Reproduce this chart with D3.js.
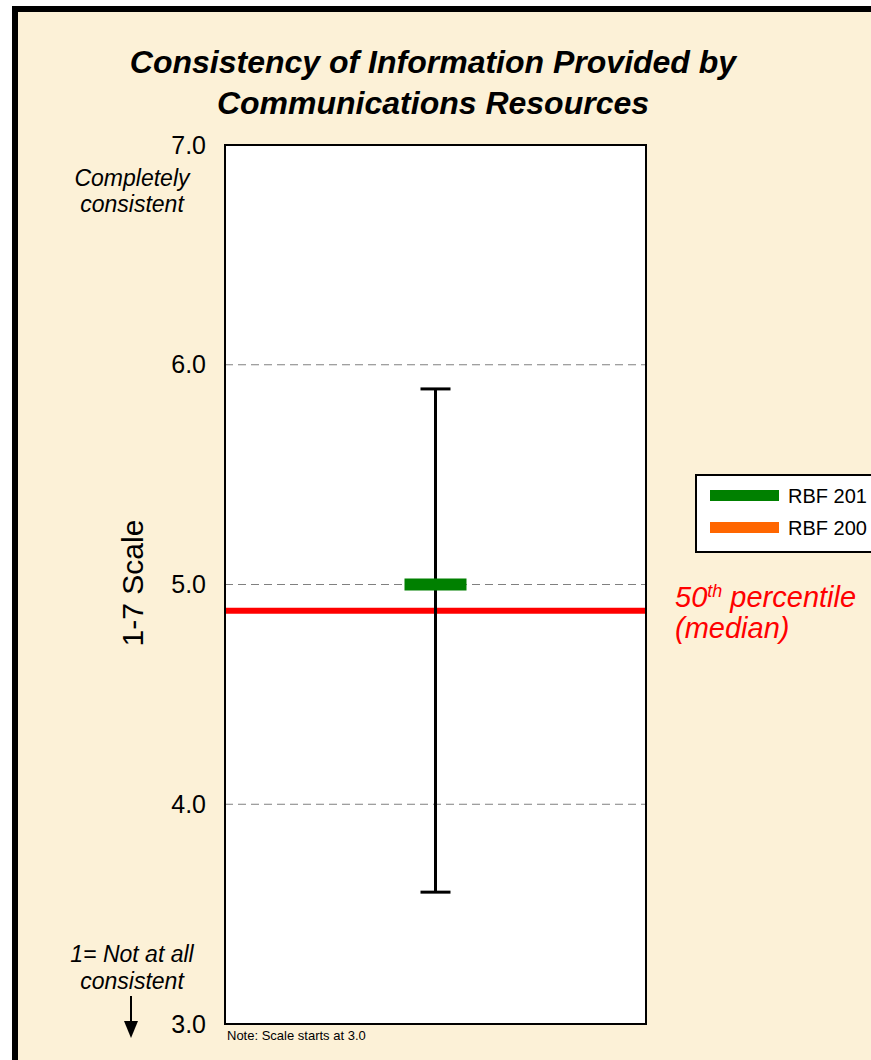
<!DOCTYPE html>
<html>
<head>
<meta charset="utf-8">
<script src="https://cdn.jsdelivr.net/npm/d3@7"></script>
<style>
  body { margin: 0; background: #fff; }
  svg { display: block; font-family: Arial, "Liberation Sans", sans-serif; }
</style>
</head>
<body>
<svg></svg>
<script>
const width = 871,
    height = 1060;

// data
const categories = ["Communications Resources"];
const rbf2010 = [5.0];
const rangeLow = [3.60];
const rangeHigh = [5.89];
const median = [4.88];
const yTicks = [3, 4, 5, 6, 7];
const gridTicks = [4, 5, 6];
const legendLabels = ["RBF 201", "RBF 200"];
const legendColors = ["#008000", "#FF6600"];

const svg = d3.select("svg").attr("width", width).attr("height", height);

const plot = {left: 225, right: 646, top: 145, bottom: 1024};

// outer frame
svg.append("rect")
    .attr("x", 15).attr("y", 9)
    .attr("width", width + 20).attr("height", height + 20)
    .attr("fill", "#FCF1D7")
    .attr("stroke", "#000")
    .attr("stroke-width", 6);

// title
const title = svg.append("text")
    .attr("text-anchor", "middle")
    .attr("font-size", 32)
    .attr("font-weight", "bold")
    .attr("font-style", "italic")
    .attr("fill", "#000");
title.append("tspan").attr("x", 433).attr("y", 73).text("Consistency of Information Provided by");
title.append("tspan").attr("x", 433).attr("y", 114).text("Communications Resources");

const x = d3.scaleBand()
    .domain(categories)
    .range([plot.left, plot.right]);

const y = d3.scaleLinear()
    .domain([3, 7])
    .range([plot.bottom, plot.top]);

// plot background
svg.append("rect")
    .attr("x", plot.left).attr("y", plot.top)
    .attr("width", plot.right - plot.left).attr("height", plot.bottom - plot.top)
    .attr("fill", "#fff");

// gridlines
svg.append("g").selectAll("line")
    .data(gridTicks)
    .enter().append("line")
    .attr("x1", plot.left).attr("x2", plot.right)
    .attr("y1", d => y(d)).attr("y2", d => y(d))
    .attr("stroke", "#808080")
    .attr("stroke-width", 1)
    .attr("stroke-dasharray", "8,5");

// y axis labels
const yAxis = d3.axisLeft(y)
    .tickValues(yTicks)
    .tickFormat(d3.format(".1f"))
    .tickSize(0)
    .tickPadding(19);

svg.append("g")
    .attr("transform", `translate(${plot.left},0)`)
    .call(yAxis)
    .call(g => g.select(".domain").remove())
    .call(g => g.selectAll("text")
        .attr("font-size", 25)
        .attr("font-family", "Arial, 'Liberation Sans', sans-serif")
        .attr("fill", "#000"));

// median line
svg.append("g").selectAll("line")
    .data(median)
    .enter().append("line")
    .attr("x1", plot.left).attr("x2", plot.right)
    .attr("y1", d => y(d)).attr("y2", d => y(d))
    .attr("stroke", "#FF0000")
    .attr("stroke-width", 6);

// range bar
const capW = 30;
const bars = svg.append("g").selectAll("g")
    .data(categories)
    .enter().append("g");

bars.append("line")
    .attr("x1", d => x(d) + x.bandwidth() / 2)
    .attr("x2", d => x(d) + x.bandwidth() / 2)
    .attr("y1", (d, i) => y(rangeHigh[i]))
    .attr("y2", (d, i) => y(rangeLow[i]))
    .attr("stroke", "#000").attr("stroke-width", 3);

bars.append("line")
    .attr("x1", d => x(d) + x.bandwidth() / 2 - capW / 2)
    .attr("x2", d => x(d) + x.bandwidth() / 2 + capW / 2)
    .attr("y1", (d, i) => y(rangeHigh[i]))
    .attr("y2", (d, i) => y(rangeHigh[i]))
    .attr("stroke", "#000").attr("stroke-width", 3);

bars.append("line")
    .attr("x1", d => x(d) + x.bandwidth() / 2 - capW / 2)
    .attr("x2", d => x(d) + x.bandwidth() / 2 + capW / 2)
    .attr("y1", (d, i) => y(rangeLow[i]))
    .attr("y2", (d, i) => y(rangeLow[i]))
    .attr("stroke", "#000").attr("stroke-width", 3);

// RBF 2010 marker
bars.append("rect")
    .attr("x", d => x(d) + x.bandwidth() / 2 - 31)
    .attr("y", (d, i) => y(rbf2010[i]) - 6)
    .attr("width", 62)
    .attr("height", 12)
    .attr("fill", "#008000");

// plot border
svg.append("rect")
    .attr("x", plot.left).attr("y", plot.top)
    .attr("width", plot.right - plot.left).attr("height", plot.bottom - plot.top)
    .attr("fill", "none")
    .attr("stroke", "#000")
    .attr("stroke-width", 2);

// y axis title
svg.append("text")
    .attr("transform", "translate(143,583) rotate(-90)")
    .attr("text-anchor", "middle")
    .attr("font-size", 30)
    .attr("fill", "#000")
    .text("1-7 Scale");

// scale end notes
const topNote = svg.append("text")
    .attr("text-anchor", "middle")
    .attr("font-size", 23)
    .attr("font-style", "italic")
    .attr("fill", "#000");
topNote.append("tspan").attr("x", 132).attr("y", 186).text("Completely");
topNote.append("tspan").attr("x", 132).attr("y", 212).text("consistent");

const bottomNote = svg.append("text")
    .attr("text-anchor", "middle")
    .attr("font-size", 23)
    .attr("font-style", "italic")
    .attr("fill", "#000");
bottomNote.append("tspan").attr("x", 132).attr("y", 962).text("1= Not at all");
bottomNote.append("tspan").attr("x", 132).attr("y", 989).text("consistent");

// arrow
svg.append("line")
    .attr("x1", 131).attr("x2", 131)
    .attr("y1", 996).attr("y2", 1024)
    .attr("stroke", "#000").attr("stroke-width", 2);
svg.append("path")
    .attr("d", "M124,1021 L138,1021 L131,1038 Z")
    .attr("fill", "#000");

svg.append("text")
    .attr("x", 227).attr("y", 1040)
    .attr("font-size", 13)
    .attr("fill", "#000")
    .text("Note: Scale starts at 3.0");

// median label
const medLabel = svg.append("text")
    .attr("font-size", 29)
    .attr("font-style", "italic")
    .attr("fill", "#FF0000");
const l1 = medLabel.append("tspan").attr("x", 675).attr("y", 607);
l1.append("tspan").text("50");
l1.append("tspan").attr("font-size", 18).attr("dy", -10).text("th");
l1.append("tspan").attr("dy", 10).text(" percentile");
medLabel.append("tspan").attr("x", 675).attr("y", 638).text("(median)");

// legend
const legend = svg.append("g");
legend.append("rect")
    .attr("x", 696).attr("y", 475)
    .attr("width", 220).attr("height", 77)
    .attr("fill", "#fff")
    .attr("stroke", "#000")
    .attr("stroke-width", 2);

const items = legend.selectAll("g.item")
    .data(legendLabels)
    .enter().append("g")
    .attr("class", "item")
    .attr("transform", (d, i) => `translate(0,${i * 32})`);

items.append("rect")
    .attr("x", 710).attr("y", 490)
    .attr("width", 69).attr("height", 11)
    .attr("fill", (d, i) => legendColors[i]);

items.append("text")
    .attr("x", 788).attr("y", 503)
    .attr("font-size", 20)
    .attr("fill", "#000")
    .text(d => d);
</script>
</body>
</html>
